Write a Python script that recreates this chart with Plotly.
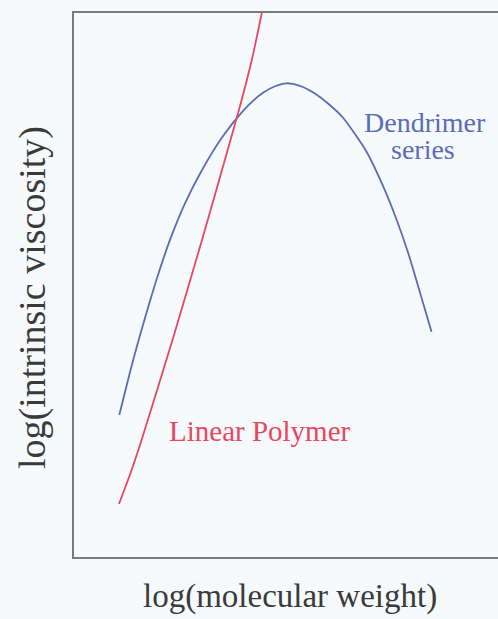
import plotly.graph_objects as go

# Dendrimer series (arbitrary log units)
dend_x = [1.068, 1.333, 1.547, 1.776, 2.019, 2.292, 2.618, 3.019, 3.502, 3.993, 4.229, 4.465,
          4.741, 5.017, 5.330, 5.644, 5.991, 6.351, 6.903, 7.295, 7.611, 7.884, 8.120, 8.432]
dend_y = [2.610, 3.438, 4.050, 4.664, 5.276, 5.888, 6.502, 7.114, 7.726, 8.206, 8.390, 8.537,
          8.654, 8.708, 8.662, 8.539, 8.336, 8.070, 7.445, 6.807, 6.195, 5.583, 4.969, 4.142]

# Linear polymer
lin_x = [1.061, 1.342, 1.594, 2.323, 3.019, 3.691, 3.922, 4.193, 4.429, 4.575]
lin_y = [0.974, 1.563, 2.151, 3.989, 5.827, 7.665, 8.309, 9.136, 10.0, 10.570]

BLUE = "#5a6cb4"
RED = "#e8485c"
FONT = "Liberation Serif"

fig = go.Figure()
fig.add_trace(go.Scatter(x=dend_x, y=dend_y, mode="lines", line=dict(color=BLUE, width=1.8, shape="spline", smoothing=0.6),
                         showlegend=False, hoverinfo="skip"))
fig.add_trace(go.Scatter(x=lin_x, y=lin_y, mode="lines", line=dict(color=RED, width=1.8, shape="spline", smoothing=0.6),
                         showlegend=False, hoverinfo="skip"))

fig.add_annotation(x=8.28, y=7.98, text="Dendrimer", showarrow=False, font=dict(family=FONT, size=28, color=BLUE),
                   xanchor="center", yanchor="middle")
fig.add_annotation(x=8.24, y=7.50, text="series", showarrow=False, font=dict(family=FONT, size=28, color=BLUE),
                   xanchor="center", yanchor="middle")
fig.add_annotation(x=4.38, y=2.32, text="Linear Polymer", showarrow=False, font=dict(family=FONT, size=29, color=RED),
                   xanchor="center", yanchor="middle")

fig.add_annotation(xref="paper", yref="paper", x=0.509, y=-0.0717, text="log(molecular weight)", showarrow=False,
                   font=dict(family=FONT, size=33, color="#3a3a3a"), xanchor="center", yanchor="middle")
fig.add_annotation(xref="paper", yref="paper", x=-0.099, y=0.476, text="log(intrinsic viscosity)", showarrow=False,
                   textangle=-90, font=dict(family=FONT, size=38, color="#3a3a3a"), xanchor="center", yanchor="middle")

fig.update_xaxes(range=[0, 10], showgrid=False, zeroline=False, showticklabels=False, ticks="",
                 showline=True, mirror=True, linecolor="#7a7a7a", linewidth=2)
fig.update_yaxes(range=[0, 10], showgrid=False, zeroline=False, showticklabels=False, ticks="",
                 showline=True, mirror=False, linecolor="#7a7a7a", linewidth=2)

fig.update_layout(width=498, height=619, margin=dict(l=74, r=0, t=13, b=62),
                  paper_bgcolor="#f6fafc", plot_bgcolor="#f6fafc")

fig.write_html("out.html", config={"displayModeBar": False},
               post_script="document.body.style.margin='0';document.body.style.background='#f6fafc';")
